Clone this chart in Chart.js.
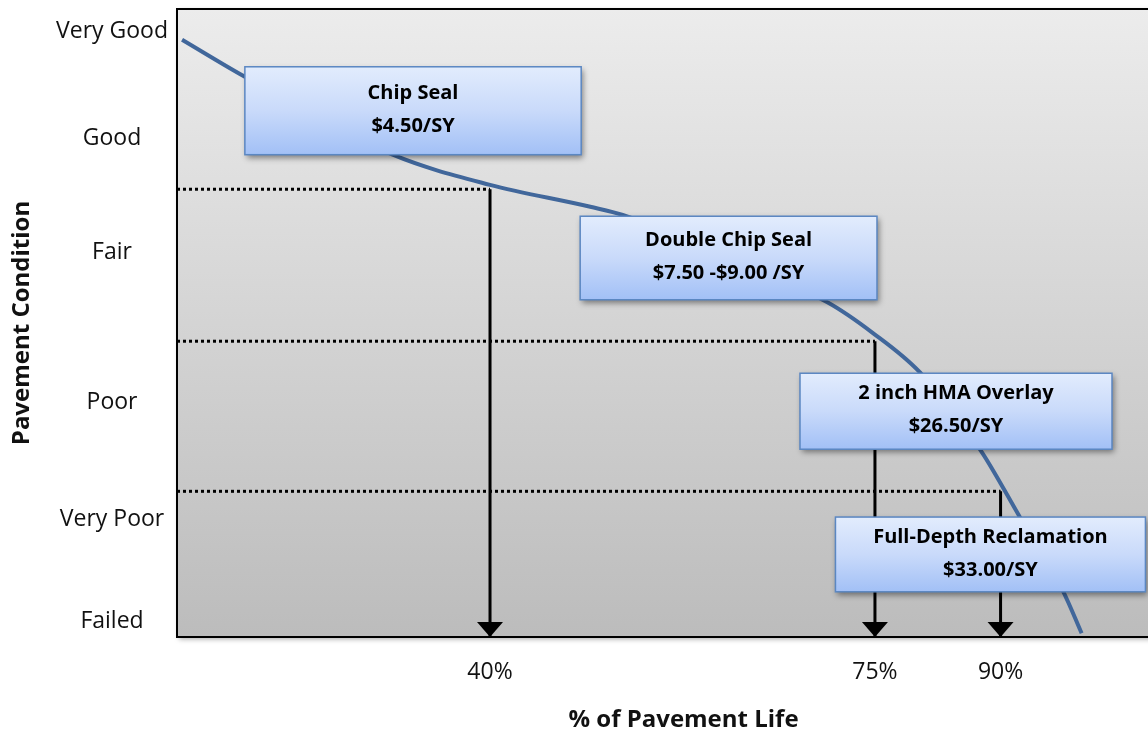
<!DOCTYPE html>
<html>
<head>
<meta charset="utf-8">
<script src="https://cdn.jsdelivr.net/npm/chart.js@4"></script>
<style>
  html, body { margin:0; padding:0; background:#fff; overflow:hidden; }
  #wrap { width:1190px; height:736px; }
</style>
</head>
<body>
<div id="wrap"><canvas id="lifeChart"></canvas></div>
<script>
// y axis: condition levels (schematic 0-100 scale)
const conditionLabels = ["Failed", "Very Poor", "Poor", "Fair", "Good", "Very Good"];
const conditionLevels = [2.5, 18.7, 37.3, 61.3, 79.4, 96.5];

// x axis: pavement life (schematic position 0-100)
const lifeLabels = ["40%", "75%", "90%"];
const lifePos = [30.9, 68.9, 81.3];

// deterioration curve
const curveLife = [0.5, 6.7, 21.3, 30.9, 40.8, 44.0, 64.2, 68.7, 73.3, 79.3, 83.2, 87.5, 89.3];
const curveCond = [95.1, 89.2, 76.8, 72.0, 68.5, 67.2, 53.3, 48.4, 42.2, 29.8, 19.1, 7.2, 0.6];

// condition where each trigger point sits
const triggerCond = [71.3, 47.1, 23.2];

// treatments
const treatments = ["Chip Seal", "Double Chip Seal", "2 inch HMA Overlay", "Full-Depth Reclamation"];
const costs = ["$4.50/SY", "$7.50 -$9.00 /SY", "$26.50/SY", "$33.00/SY"];

// callout placement in axis units [xFrom, xTo, yTop, yBottom]
const boxPlace = [
  [6.7, 39.9, 90.8, 76.8],
  [39.8, 69.1, 67.0, 53.7],
  [61.5, 92.3, 42.0, 29.9],
  [65.0, 95.6, 19.1, 7.2]
];

const FONT = "'Open Sans', sans-serif";

// ======================
// DATASETS
// ======================
const datasets = [];

datasets.push({
  data: curveLife.map((x, i) => ({ x: x, y: curveCond[i] })),
  borderColor: "#41679b",
  borderWidth: 4,
  pointRadius: 0,
  cubicInterpolationMode: "monotone",
  order: 1
});

lifePos.forEach((x, i) => {
  // dotted line from the axis to the trigger point
  datasets.push({
    data: [{ x: 0, y: triggerCond[i] }, { x: x, y: triggerCond[i] }],
    borderColor: "#000",
    borderWidth: 3,
    borderDash: [3, 3],
    pointRadius: 0,
    order: 2
  });
  // arrow down to the life axis
  datasets.push({
    data: [{ x: x, y: triggerCond[i] }, { x: x, y: 0 }],
    borderColor: "#000",
    borderWidth: 3,
    pointRadius: 0,
    order: 2
  });
});

// ======================
// PLUGINS
// ======================
const frame = {
  id: "frame",
  beforeDraw(chart) {
    const { ctx, chartArea: a } = chart;
    ctx.save();
    const g = ctx.createLinearGradient(0, a.top, 0, a.bottom);
    g.addColorStop(0, "#ececec");
    g.addColorStop(1, "#bcbcbc");
    ctx.shadowColor = "rgba(0,0,0,0.35)";
    ctx.shadowBlur = 5;
    ctx.shadowOffsetX = 2;
    ctx.shadowOffsetY = 2;
    ctx.fillStyle = g;
    ctx.fillRect(a.left, a.top, a.width, a.height);
    ctx.restore();

    ctx.save();
    ctx.strokeStyle = "#000";
    ctx.lineWidth = 2;
    ctx.beginPath();
    ctx.moveTo(a.left, a.top);
    ctx.lineTo(a.right, a.top);
    ctx.stroke();
    ctx.restore();
  }
};

const callouts = {
  id: "callouts",
  afterDatasetsDraw(chart) {
    const { ctx } = chart;
    const xs = chart.scales.x, ys = chart.scales.y;

    // arrowheads
    ctx.save();
    ctx.fillStyle = "#000";
    lifePos.forEach(v => {
      const px = xs.getPixelForValue(v);
      const py = ys.getPixelForValue(0);
      ctx.beginPath();
      ctx.moveTo(px - 13, py - 15);
      ctx.lineTo(px + 13, py - 15);
      ctx.lineTo(px, py);
      ctx.closePath();
      ctx.fill();
    });
    ctx.restore();

    // treatment boxes
    boxPlace.forEach((b, i) => {
      const x0 = xs.getPixelForValue(b[0]);
      const x1 = xs.getPixelForValue(b[1]);
      const y0 = ys.getPixelForValue(b[2]);
      const y1 = ys.getPixelForValue(b[3]);
      ctx.save();
      const g = ctx.createLinearGradient(0, y0, 0, y1);
      g.addColorStop(0, "#e2ecfd");
      g.addColorStop(0.5, "#c9dafa");
      g.addColorStop(1, "#a2c0f6");
      ctx.shadowColor = "rgba(0,0,0,0.45)";
      ctx.shadowBlur = 6;
      ctx.shadowOffsetX = 2;
      ctx.shadowOffsetY = 3;
      ctx.fillStyle = g;
      ctx.fillRect(x0, y0, x1 - x0, y1 - y0);
      ctx.restore();

      ctx.save();
      ctx.strokeStyle = "#5b87c2";
      ctx.lineWidth = 1.5;
      ctx.strokeRect(x0, y0, x1 - x0, y1 - y0);
      ctx.fillStyle = "#000";
      ctx.font = "bold 20px " + FONT;
      ctx.textAlign = "center";
      ctx.textBaseline = "middle";
      const cx = (x0 + x1) / 2, cy = (y0 + y1) / 2 - 1;
      ctx.fillText(treatments[i], cx, cy - 16.5);
      ctx.fillText(costs[i], cx, cy + 16.5);
      ctx.restore();
    });
  }
};

// ======================
// CHART
// ======================
new Chart(document.getElementById("lifeChart"), {
  type: "line",
  data: { datasets: datasets },
  options: {
    responsive: true,
    maintainAspectRatio: false,
    animation: false,
    layout: { padding: { top: 9, left: 0, right: 0, bottom: 0 } },
    plugins: { legend: { display: false }, tooltip: { enabled: false } },
    scales: {
      x: {
        type: "linear",
        min: 0,
        max: 100,
        grid: { display: false, drawTicks: false },
        border: { color: "#000", width: 2 },
        afterBuildTicks: s => { s.ticks = lifePos.map(v => ({ value: v })); },
        afterFit: s => { s.height = 99; s.paddingLeft = 0; s.paddingRight = 0; },
        ticks: {
          padding: 22,
          maxRotation: 0,
          autoSkip: false,
          color: "#111",
          font: { family: FONT, size: 23 },
          callback: (v, i) => lifeLabels[i]
        },
        title: {
          display: true,
          text: "% of Pavement Life",
          color: "#111",
          font: { family: FONT, size: 24, weight: "bold" },
          padding: { top: 0, bottom: 1 }
        }
      },
      y: {
        type: "linear",
        min: 0,
        max: 100,
        grid: { display: false, drawTicks: false },
        border: { color: "#000", width: 2 },
        afterBuildTicks: s => { s.ticks = conditionLevels.map(v => ({ value: v })); },
        afterFit: s => { s.width = 177; s.paddingTop = 0; s.paddingBottom = 0; },
        ticks: {
          padding: 9,
          crossAlign: "center",
          autoSkip: false,
          color: "#111",
          font: { family: FONT, size: 23 },
          callback: (v, i) => conditionLabels[i]
        },
        title: {
          display: true,
          text: "Pavement Condition",
          color: "#111",
          font: { family: FONT, size: 24, weight: "bold" },
          padding: { top: 8, bottom: 0 }
        }
      }
    }
  },
  plugins: [frame, callouts]
});
</script>
</body>
</html>
